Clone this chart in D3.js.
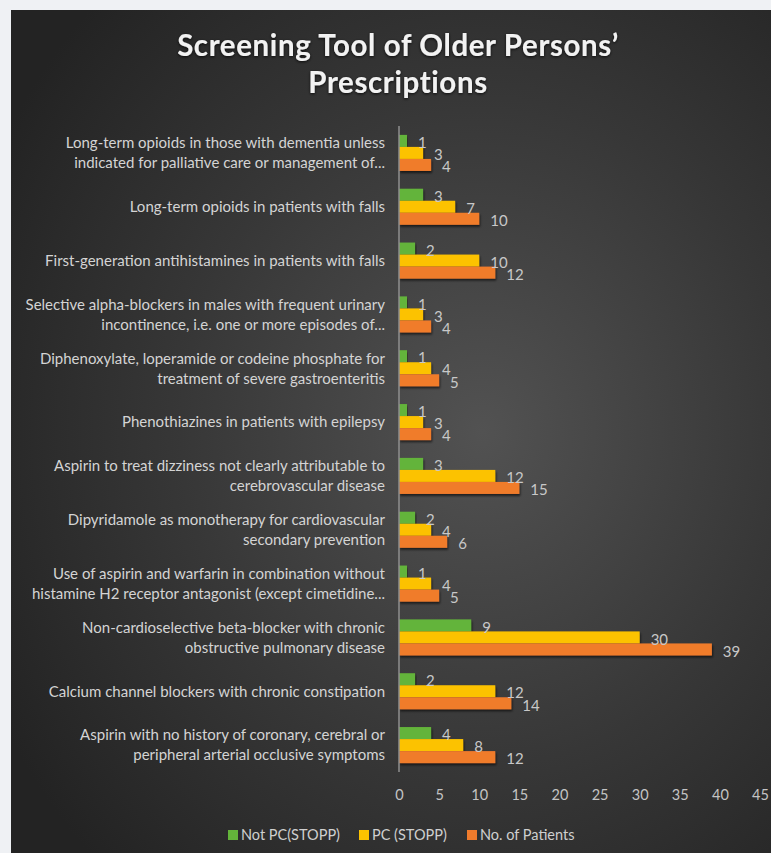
<!DOCTYPE html>
<html>
<head>
<meta charset="utf-8">
<script src="https://cdn.jsdelivr.net/npm/d3@7"></script>
<style>
  html, body { margin: 0; padding: 0; background: #eff1f4; }
  svg { display: block; }
</style>
</head>
<body>
<svg id="chart" width="771" height="853"></svg>
<script>
const categories = [
  "Long-term opioids in those with dementia unless\nindicated for palliative care or management of...",
  "Long-term opioids in patients with falls",
  "First-generation antihistamines in patients with falls",
  "Selective alpha-blockers in males with frequent urinary\nincontinence, i.e. one or more episodes of...",
  "Diphenoxylate, loperamide or codeine phosphate for\ntreatment of severe gastroenteritis",
  "Phenothiazines in patients with epilepsy",
  "Aspirin to treat dizziness not clearly attributable to\ncerebrovascular disease",
  "Dipyridamole as monotherapy for cardiovascular\nsecondary prevention",
  "Use of aspirin and warfarin in combination without\nhistamine H2 receptor antagonist (except cimetidine...",
  "Non-cardioselective beta-blocker with chronic\nobstructive pulmonary disease",
  "Calcium channel blockers with chronic constipation",
  "Aspirin with no history of coronary, cerebral or\nperipheral arterial occlusive symptoms"
];
const seriesNames = ["Not PC(STOPP)", "PC (STOPP)", "No. of Patients"];
const notPC    = [1, 3, 2, 1, 1, 1, 3, 2, 1, 9, 2, 4];
const pc       = [3, 7, 10, 3, 4, 3, 12, 4, 4, 30, 12, 8];
const patients = [4, 10, 12, 4, 5, 4, 15, 6, 5, 39, 14, 12];
const xTicks   = [0, 5, 10, 15, 20, 25, 30, 35, 40, 45];
const colors   = ["#63b43a", "#fcc200", "#f07b2c"];
const titleLines = ["Screening Tool of Older Persons\u2019", "Prescriptions"];

const series = [notPC, pc, patients];
const svg = d3.select("#chart");
const W = 771, H = 853;
const FONT = "Lato, 'Open Sans', sans-serif";

const defs = svg.append("defs");
const bg = defs.append("radialGradient").attr("id", "bgGrad")
  .attr("cx", "62%").attr("cy", "50%").attr("r", "72%");
bg.append("stop").attr("offset", "0%").attr("stop-color", "#525252");
bg.append("stop").attr("offset", "55%").attr("stop-color", "#373737");
bg.append("stop").attr("offset", "100%").attr("stop-color", "#232323");

const shadow = defs.append("filter").attr("id", "barShadow")
  .attr("x", "-5%").attr("y", "-30%").attr("width", "115%").attr("height", "180%");
shadow.append("feDropShadow").attr("dx", 1).attr("dy", 2)
  .attr("stdDeviation", 1.3).attr("flood-color", "#000").attr("flood-opacity", 0.6);

const glow = defs.append("filter").attr("id", "titleShadow")
  .attr("x", "-5%").attr("y", "-30%").attr("width", "110%").attr("height", "160%");
glow.append("feDropShadow").attr("dx", 0).attr("dy", 1)
  .attr("stdDeviation", 1.5).attr("flood-color", "#000").attr("flood-opacity", 0.8);

// chart panel
svg.append("rect").attr("x", 11).attr("y", 10).attr("width", W - 11).attr("height", H - 10)
  .attr("fill", "url(#bgGrad)");

// scales
const x = d3.scaleLinear().domain([0, 45]).range([399, 760]);
const y = d3.scaleBand().domain(d3.range(categories.length))
  .range([126, 772]).paddingInner(0.33).paddingOuter(0.165);
const sub = d3.scaleBand().domain(d3.range(series.length)).range([0, y.bandwidth()]);

// title
svg.append("g").attr("filter", "url(#titleShadow)")
  .selectAll("text").data(titleLines).join("text")
  .attr("x", 398).attr("y", (d, i) => 56 + i * 37)
  .attr("text-anchor", "middle")
  .attr("font-family", FONT)
  .attr("font-weight", "bold").attr("font-size", 29.5)
  .attr("letter-spacing", 0.6)
  .attr("fill", "#f2f2f2")
  .text(d => d);

// category labels
const catG = svg.append("g");
categories.forEach((c, i) => {
  const lines = c.split("\n");
  const cy = y(i) + y.bandwidth() / 2;
  const t = catG.append("text")
    .attr("text-anchor", "end")
    .attr("font-family", FONT)
    .attr("font-size", 15)
    .attr("fill", "#d4d4d4");
  lines.forEach((ln, k) => {
    t.append("tspan").attr("x", 385)
      .attr("y", cy + (k - (lines.length - 1) / 2) * 20)
      .attr("dy", "0.35em")
      .text(ln);
  });
});

// bars
const groups = svg.append("g").selectAll("g.cat").data(categories).join("g")
  .attr("class", "cat")
  .attr("transform", (d, i) => `translate(0,${y(i)})`);

groups.each(function(d, i) {
  const g = d3.select(this);
  series.forEach((s, k) => {
    g.append("rect")
      .attr("x", x(0)).attr("y", sub(k))
      .attr("width", x(s[i]) - x(0)).attr("height", sub.bandwidth())
      .attr("fill", colors[k])
      .attr("filter", "url(#barShadow)");
  });
  series.forEach((s, k) => {
    g.append("text")
      .attr("x", x(s[i]) + 11)
      .attr("y", sub(k) + sub.bandwidth() / 2 + 2)
      .attr("dy", "0.35em")
      .attr("font-family", FONT)
      .attr("font-size", 15)
      .attr("fill", "#c8c8c8")
      .text(s[i]);
  });
});

// category axis line
svg.append("line")
  .attr("x1", x(0)).attr("x2", x(0))
  .attr("y1", y.range()[0]).attr("y2", y.range()[1])
  .attr("stroke", "#8f8f8f").attr("stroke-width", 1.5);

// value axis
const xAxis = svg.append("g").attr("transform", "translate(0,795)")
  .call(d3.axisBottom(x).tickValues(xTicks).tickSize(0).tickPadding(0));
xAxis.select(".domain").remove();
xAxis.selectAll("text")
  .attr("dy", "0.35em")
  .attr("font-family", FONT)
  .attr("font-size", 14.5)
  .attr("fill", "#c4c4c4");

// legend
const legendX = [228, 359, 467];
const legend = svg.append("g").selectAll("g").data(seriesNames).join("g")
  .attr("transform", (d, i) => `translate(${legendX[i]},835)`);
legend.append("rect").attr("x", 0).attr("y", -5).attr("width", 10).attr("height", 10)
  .attr("fill", (d, i) => colors[i]);
legend.append("text").attr("x", 13).attr("dy", "0.35em")
  .attr("font-family", FONT)
  .attr("font-size", 14.5)
  .attr("fill", "#cfcfcf")
  .text(d => d);
</script>
</body>
</html>
